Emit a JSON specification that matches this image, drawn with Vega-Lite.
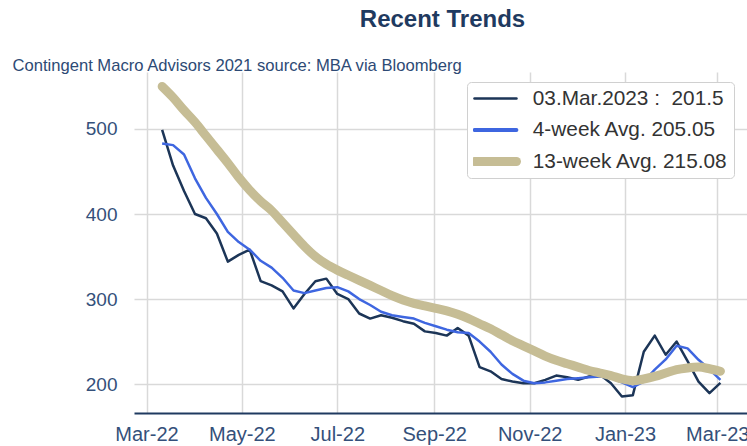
{
  "$schema": "https://vega.github.io/schema/vega-lite/v6.json",
  "autosize": "none",
  "width": 613,
  "height": 341,
  "padding": {"left": 134, "top": 72, "right": 0, "bottom": 33},
  "background": "white",
  "title": {
    "text": "Recent Trends",
    "anchor": "middle",
    "font": "Liberation Sans",
    "fontSize": 24,
    "fontWeight": "bold",
    "color": "#1f3a60",
    "baseline": "alphabetic",
    "offset": 6.5,
    "dx": 2
  },
  "config": {
    "view": {"stroke": null},
    "font": "Liberation Sans"
  },
  "data": {
    "values": [
      {"date": "2022-03-11", "weekly": 499, "avg4": 483, "avg13": 550},
      {"date": "2022-03-18", "weekly": 457, "avg4": 481, "avg13": 537},
      {"date": "2022-03-25", "weekly": 427, "avg4": 470, "avg13": 522},
      {"date": "2022-04-01", "weekly": 400, "avg4": 442, "avg13": 508},
      {"date": "2022-04-08", "weekly": 395, "avg4": 419, "avg13": 492},
      {"date": "2022-04-15", "weekly": 377, "avg4": 400, "avg13": 476},
      {"date": "2022-04-22", "weekly": 344, "avg4": 379, "avg13": 460},
      {"date": "2022-04-29", "weekly": 352, "avg4": 367, "avg13": 443},
      {"date": "2022-05-06", "weekly": 358, "avg4": 358, "avg13": 428},
      {"date": "2022-05-13", "weekly": 321, "avg4": 345, "avg13": 415},
      {"date": "2022-05-20", "weekly": 316, "avg4": 337, "avg13": 404},
      {"date": "2022-05-27", "weekly": 309, "avg4": 325, "avg13": 390},
      {"date": "2022-06-03", "weekly": 289, "avg4": 310, "avg13": 376},
      {"date": "2022-06-10", "weekly": 306, "avg4": 307, "avg13": 362},
      {"date": "2022-06-17", "weekly": 321, "avg4": 310, "avg13": 350},
      {"date": "2022-06-24", "weekly": 324, "avg4": 313, "avg13": 341},
      {"date": "2022-07-01", "weekly": 306, "avg4": 314, "avg13": 334},
      {"date": "2022-07-08", "weekly": 300, "avg4": 309, "avg13": 328},
      {"date": "2022-07-15", "weekly": 283, "avg4": 300, "avg13": 322},
      {"date": "2022-07-22", "weekly": 277, "avg4": 293, "avg13": 316},
      {"date": "2022-07-29", "weekly": 281, "avg4": 285, "avg13": 310},
      {"date": "2022-08-05", "weekly": 278, "avg4": 281, "avg13": 304},
      {"date": "2022-08-12", "weekly": 274, "avg4": 279, "avg13": 299},
      {"date": "2022-08-19", "weekly": 271, "avg4": 277, "avg13": 295},
      {"date": "2022-08-26", "weekly": 262, "avg4": 272, "avg13": 292},
      {"date": "2022-09-02", "weekly": 260, "avg4": 268, "avg13": 289},
      {"date": "2022-09-09", "weekly": 257, "avg4": 264, "avg13": 286},
      {"date": "2022-09-16", "weekly": 266, "avg4": 261, "avg13": 282},
      {"date": "2022-09-23", "weekly": 257, "avg4": 260, "avg13": 277},
      {"date": "2022-09-30", "weekly": 220, "avg4": 250, "avg13": 271},
      {"date": "2022-10-07", "weekly": 215, "avg4": 238, "avg13": 265},
      {"date": "2022-10-14", "weekly": 206, "avg4": 223, "avg13": 258},
      {"date": "2022-10-21", "weekly": 203, "avg4": 212, "avg13": 251},
      {"date": "2022-10-28", "weekly": 201, "avg4": 204, "avg13": 245},
      {"date": "2022-11-04", "weekly": 201, "avg4": 201, "avg13": 239},
      {"date": "2022-11-11", "weekly": 205, "avg4": 202, "avg13": 233},
      {"date": "2022-11-18", "weekly": 210, "avg4": 204, "avg13": 228},
      {"date": "2022-11-25", "weekly": 208, "avg4": 206, "avg13": 224},
      {"date": "2022-12-02", "weekly": 205, "avg4": 207, "avg13": 220},
      {"date": "2022-12-09", "weekly": 209, "avg4": 208, "avg13": 216},
      {"date": "2022-12-16", "weekly": 211, "avg4": 209, "avg13": 213},
      {"date": "2022-12-23", "weekly": 201, "avg4": 207, "avg13": 210},
      {"date": "2022-12-30", "weekly": 185.4, "avg4": 202, "avg13": 206},
      {"date": "2023-01-06", "weekly": 187, "avg4": 196.5, "avg13": 204},
      {"date": "2023-01-13", "weekly": 238, "avg4": 203, "avg13": 206},
      {"date": "2023-01-20", "weekly": 257, "avg4": 217, "avg13": 209},
      {"date": "2023-01-27", "weekly": 234.5, "avg4": 229, "avg13": 213},
      {"date": "2023-02-03", "weekly": 250, "avg4": 245, "avg13": 217},
      {"date": "2023-02-10", "weekly": 227, "avg4": 242, "avg13": 219},
      {"date": "2023-02-17", "weekly": 203, "avg4": 228.6, "avg13": 220},
      {"date": "2023-02-24", "weekly": 189.4, "avg4": 217.4, "avg13": 218},
      {"date": "2023-03-03", "weekly": 201.5, "avg4": 205.05, "avg13": 215.08}
    ]
  },
  "encoding": {
    "x": {
      "field": "date",
      "type": "temporal",
      "scale": {
        "type": "utc",
        "domain": [
          {"year": 2022, "month": "Feb", "date": 21, "utc": true},
          {"year": 2023, "month": "Mar", "date": 20, "utc": true}
        ]
      },
      "axis": {
        "title": null,
        "format": "%b-%y",
        "values": [
          {"year": 2022, "month": "Mar", "date": 1, "utc": true},
          {"year": 2022, "month": "May", "date": 1, "utc": true},
          {"year": 2022, "month": "Jul", "date": 1, "utc": true},
          {"year": 2022, "month": "Sep", "date": 1, "utc": true},
          {"year": 2022, "month": "Nov", "date": 1, "utc": true},
          {"year": 2023, "month": "Jan", "date": 1, "utc": true},
          {"year": 2023, "month": "Mar", "date": 1, "utc": true}
        ],
        "grid": true,
        "gridColor": "#d9d9d9",
        "gridWidth": 1.5,
        "ticks": false,
        "domain": true,
        "domainColor": "#1f3a60",
        "domainWidth": 2,
        "labelFont": "Liberation Sans",
        "labelFontSize": 20,
        "labelColor": "#34507a",
        "labelPadding": 11,
        "labelFlush": false,
        "labelOverlap": false
      }
    }
  },
  "layer": [
    {
      "mark": {"type": "line", "interpolate": "linear", "strokeJoin": "round"},
      "encoding": {
        "y": {
          "field": "weekly",
          "type": "quantitative",
          "scale": {"domain": [166, 567], "zero": false, "nice": false},
          "axis": {
            "title": "Contingent Macro Advisors 2021 source: MBA via Bloomberg",
            "titleAngle": 0,
            "titleX": -122,
            "titleY": -2,
            "titleAlign": "left",
            "titleBaseline": "alphabetic",
            "titleFont": "Liberation Sans",
            "titleFontSize": 16.6,
            "titleFontWeight": "normal",
            "titleColor": "#2d4a75",
            "values": [200, 300, 400, 500],
            "grid": true,
            "gridColor": "#d9d9d9",
            "gridWidth": 1.5,
            "ticks": false,
            "domain": false,
            "labelFont": "Liberation Sans",
            "labelFontSize": 19,
            "labelColor": "#34507a",
            "labelPadding": 17
          }
        },
        "color": {"datum": "03.Mar.2023 : \u00a0201.5"},
        "strokeWidth": {"datum": "03.Mar.2023 : \u00a0201.5"}
      }
    },
    {
      "mark": {"type": "line", "interpolate": "linear", "strokeJoin": "round"},
      "encoding": {
        "y": {"field": "avg4", "type": "quantitative"},
        "color": {"datum": "4-week Avg. 205.05"},
        "strokeWidth": {"datum": "4-week Avg. 205.05"}
      }
    },
    {
      "mark": {"type": "line", "interpolate": "monotone", "strokeCap": "round", "strokeJoin": "round"},
      "encoding": {
        "y": {"field": "avg13", "type": "quantitative"},
        "color": {
          "datum": "13-week Avg. 215.08",
          "scale": {
            "domain": ["03.Mar.2023 : \u00a0201.5", "4-week Avg. 205.05", "13-week Avg. 215.08"],
            "range": ["#1c3557", "#3e66e0", "#c6bd95"]
          },
          "legend": {
            "title": null,
            "orient": "none",
            "legendX": 333,
            "legendY": 10,
            "fillColor": "white",
            "strokeColor": "#d0d0d0",
            "cornerRadius": 4,
            "padding": 6,
            "symbolType": "M-0.85,0H3.15",
            "symbolSize": 441,
            "clipHeight": 21,
            "labelFont": "Liberation Sans",
            "labelFontSize": 20.8,
            "labelColor": "#333333",
            "labelOffset": 39,
            "rowPadding": 9.5,
            "labelLimit": 400,
            "encode": {
              "symbols": {
                "update": {
                  "strokeWidth": {"signal": "datum.value === '13-week Avg. 215.08' ? 9 : datum.value === '4-week Avg. 205.05' ? 3.8 : 2.5"},
                  "strokeCap": {"value": "round"}
                }
              }
            }
          }
        },
        "strokeWidth": {
          "datum": "13-week Avg. 215.08",
          "scale": {
            "type": "ordinal",
            "domain": ["03.Mar.2023 : \u00a0201.5", "4-week Avg. 205.05", "13-week Avg. 215.08"],
            "range": [2.5, 3.8, 9]
          },
          "legend": null
        }
      }
    }
  ]
}
